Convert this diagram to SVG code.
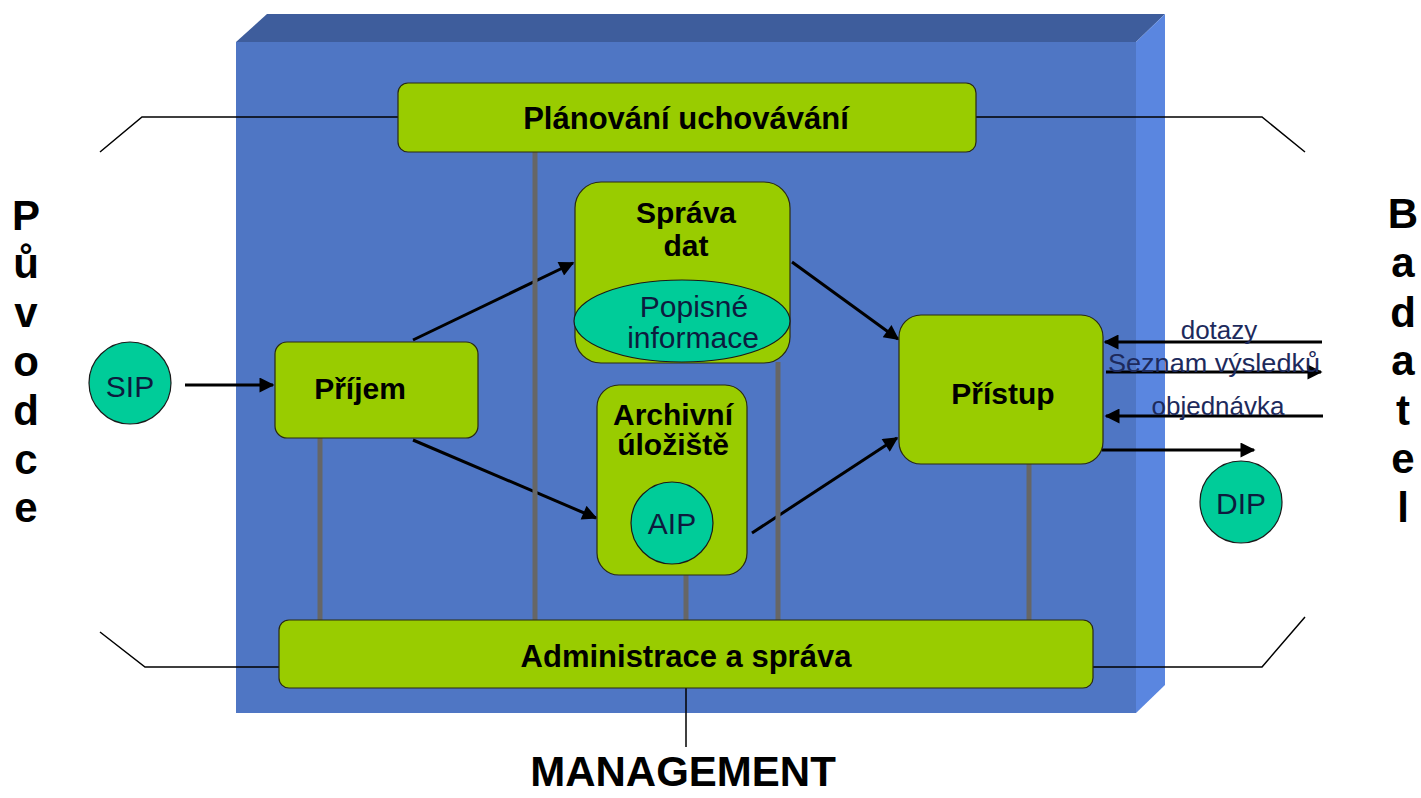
<svg xmlns="http://www.w3.org/2000/svg" width="1421" height="798" viewBox="0 0 1421 798">
<defs>
<style>
.box{fill:#99CC00;stroke:#2a2a10;stroke-width:1.2}
.teal{fill:#00CC99;stroke:#1a1a1a;stroke-width:1.2}
.bt{font-family:"Liberation Sans",Arial,sans-serif;font-weight:bold;font-size:30px;fill:#000;text-anchor:middle}
.nt{font-family:"Liberation Sans",Arial,sans-serif;font-size:30px;fill:#0D1B3E;text-anchor:middle}
.lbl{font-family:"Liberation Sans",Arial,sans-serif;font-size:26px;fill:#1D2A5C;text-anchor:middle}
.side{font-family:"Liberation Sans",Arial,sans-serif;font-weight:bold;font-size:42px;fill:#000;text-anchor:middle}
.arr{stroke:#000;stroke-width:3;fill:none;marker-end:url(#ah)}
.gray{stroke:#666;stroke-width:5}
.thin{stroke:#000;stroke-width:1.5;fill:none}
</style>
<marker id="ah" viewBox="0 0 10 10" refX="9" refY="5" markerWidth="5.5" markerHeight="5" orient="auto" markerUnits="strokeWidth">
<path d="M0,0 L10,5 L0,10 z" fill="#000"/>
</marker>
</defs>
<rect width="1421" height="798" fill="#fff"/>
<g id="block">
<polygon points="236,42 267,14 1165,14 1136,42" fill="#3E5D9C"/>
<polygon points="1136,42 1165,14 1165,685 1136,713" fill="#5A86E0"/>
<rect x="236" y="42" width="900" height="671" fill="#4F76C4"/>
</g>
<g id="frame-lines">
<polyline class="thin" points="100,152 142,117 398,117"/>
<polyline class="thin" points="976,117 1262,117 1305,152"/>
<polyline class="thin" points="100,632 145,667 279,667"/>
<polyline class="thin" points="1093,667 1262,667 1305,617"/>
<line class="thin" x1="686" y1="688" x2="686" y2="747"/>
</g>
<g id="connectors">
<line class="arr" x1="185" y1="385" x2="273" y2="385"/>
<line class="arr" x1="413" y1="340" x2="573" y2="263"/>
<line class="arr" x1="413" y1="440" x2="596" y2="518"/>
<line class="arr" x1="792" y1="262" x2="898" y2="339"/>
<line class="arr" x1="752" y1="533" x2="897" y2="438"/>
<line class="arr" x1="1322" y1="342" x2="1105" y2="342"/>
<line class="arr" x1="1106" y1="372" x2="1321" y2="372"/>
<line class="arr" x1="1323" y1="416" x2="1106" y2="416"/>
<line class="arr" x1="1102" y1="450" x2="1254" y2="450"/>
<line class="gray" x1="535" y1="152" x2="535" y2="620"/>
<line class="gray" x1="320" y1="438" x2="320" y2="620"/>
<line class="gray" x1="686" y1="574" x2="686" y2="620"/>
<line class="gray" x1="778" y1="362" x2="778" y2="620"/>
<line class="gray" x1="1029" y1="463" x2="1029" y2="620"/>
</g>
<g id="planovani">
<rect class="box" x="398" y="83" width="578" height="69" rx="10"/>
<text class="bt" x="686" y="129" style="font-size:31px">Plánování uchovávání</text>
</g>
<g id="sprava-dat">
<rect class="box" x="575" y="182" width="215" height="181" rx="26"/>
<text class="bt" x="686" y="223">Správa</text>
<text class="bt" x="686" y="256">dat</text>
<ellipse class="teal" cx="682" cy="321" rx="108" ry="41"/>
<text class="nt" x="694" y="317">Popisné</text>
<text class="nt" x="693" y="348">informace</text>
</g>
<g id="archivni">
<rect class="box" x="597" y="385" width="150" height="190" rx="22"/>
<text class="bt" x="673" y="425">Archivní</text>
<text class="bt" x="673" y="455">úložiště</text>
<circle class="teal" cx="672" cy="523" r="41"/>
<text class="nt" x="672" y="534">AIP</text>
</g>
<g id="prijem">
<rect class="box" x="275" y="342" width="203" height="96" rx="12"/>
<text class="bt" x="360" y="399">Příjem</text>
</g>
<g id="pristup">
<rect class="box" x="899" y="315" width="204" height="149" rx="22"/>
<text class="bt" x="1003" y="404">Přístup</text>
</g>
<g id="administrace">
<rect class="box" x="279" y="620" width="814" height="68" rx="10"/>
<text class="bt" x="686" y="667" style="font-size:31px">Administrace a správa</text>
</g>
<g id="sip">
<circle class="teal" cx="130" cy="383" r="41"/>
<text class="nt" x="130" y="397">SIP</text>
</g>
<g id="dip">
<circle class="teal" cx="1241" cy="502" r="41"/>
<text class="nt" x="1241" y="514">DIP</text>
</g>
<g id="labels">
<text class="lbl" x="1219" y="339">dotazy</text>
<text class="lbl" x="1214" y="372" textLength="212" lengthAdjust="spacingAndGlyphs">Seznam výsledků</text>
<text class="lbl" x="1218" y="415">objednávka</text>
</g>
<g id="puvodce">
<text class="side" x="26" y="230">P</text>
<text class="side" x="26" y="278">ů</text>
<text class="side" x="26" y="327">v</text>
<text class="side" x="26" y="376">o</text>
<text class="side" x="26" y="425">d</text>
<text class="side" x="26" y="474">c</text>
<text class="side" x="26" y="522">e</text>
</g>
<g id="badatel">
<text class="side" x="1403" y="228">B</text>
<text class="side" x="1403" y="277">a</text>
<text class="side" x="1403" y="327">d</text>
<text class="side" x="1403" y="375">a</text>
<text class="side" x="1403" y="425">t</text>
<text class="side" x="1403" y="473">e</text>
<text class="side" x="1403" y="522">l</text>
</g>
<g id="management">
<text class="bt" x="683" y="786" style="font-size:42px">MANAGEMENT</text>
</g>
</svg>
